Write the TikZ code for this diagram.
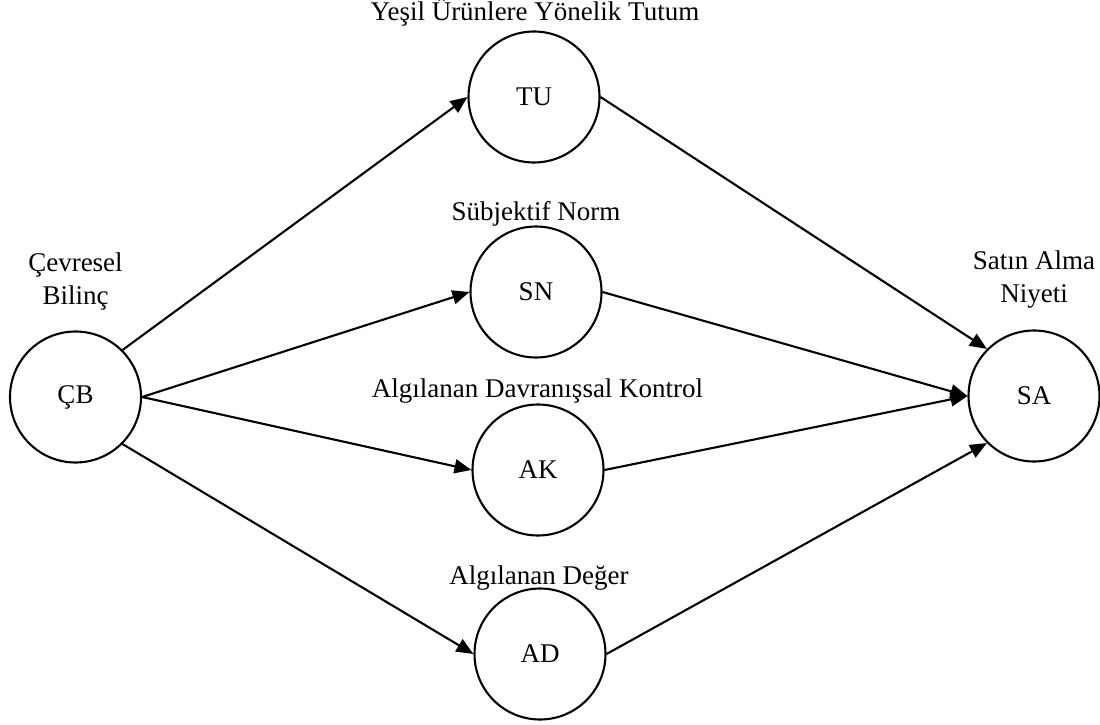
\documentclass[tikz,border=0pt]{standalone}
\usepackage{fontspec}
\setmainfont{Liberation Serif}
\usetikzlibrary{arrows.meta}
\begin{document}
\begin{tikzpicture}[x=1pt,y=-1pt,
  var/.style={circle,draw,line width=2.1pt,minimum size=131pt,inner sep=0pt,font=\fontsize{27}{32}\selectfont},
  lbl/.style={anchor=base,inner sep=0pt,font=\fontsize{27}{32}\selectfont},
  edge/.style={line width=2.1pt,-{Triangle[length=17pt,width=14pt]}}]
\useasboundingbox (0,0) rectangle (1100,725);
\node[var] (cb) at (75.5,397) {ÇB};
\node[var] (tu) at (534,97) {TU};
\node[var] (sn) at (536,292) {SN};
\node[var] (ak) at (538,470) {AK};
\node[var] (ad) at (540,654) {AD};
\node[var] (sa) at (1034,396) {SA};
\node[lbl] (tul) at (535,21) {Yeşil Ürünlere Yönelik Tutum};
\node[lbl] (snl) at (536,220) {Sübjektif Norm};
\node[lbl] (akl) at (537.5,397) {Algılanan Davranışsal Kontrol};
\node[lbl] (adl) at (539,584) {Algılanan Değer};
\node[lbl] (cbl1) at (75.5,271) {Çevresel};
\node[lbl] (cbl2) at (75.5,304) {Bilinç};
\node[lbl] (sal1) at (1034,269) {Satın Alma};
\node[lbl] (sal2) at (1034,302) {Niyeti};
\draw[edge] (cb.north east) -- (tu.west);
\draw[edge] (cb.east) -- (sn.west);
\draw[edge] (cb.east) -- (ak.west);
\draw[edge] (cb.south east) -- (ad.west);
\draw[edge] (tu.east) -- (sa.north west);
\draw[edge] (sn.east) -- (sa.west);
\draw[edge] (ak.east) -- (sa.west);
\draw[edge] (ad.east) -- (sa.south west);
\end{tikzpicture}
\end{document}
